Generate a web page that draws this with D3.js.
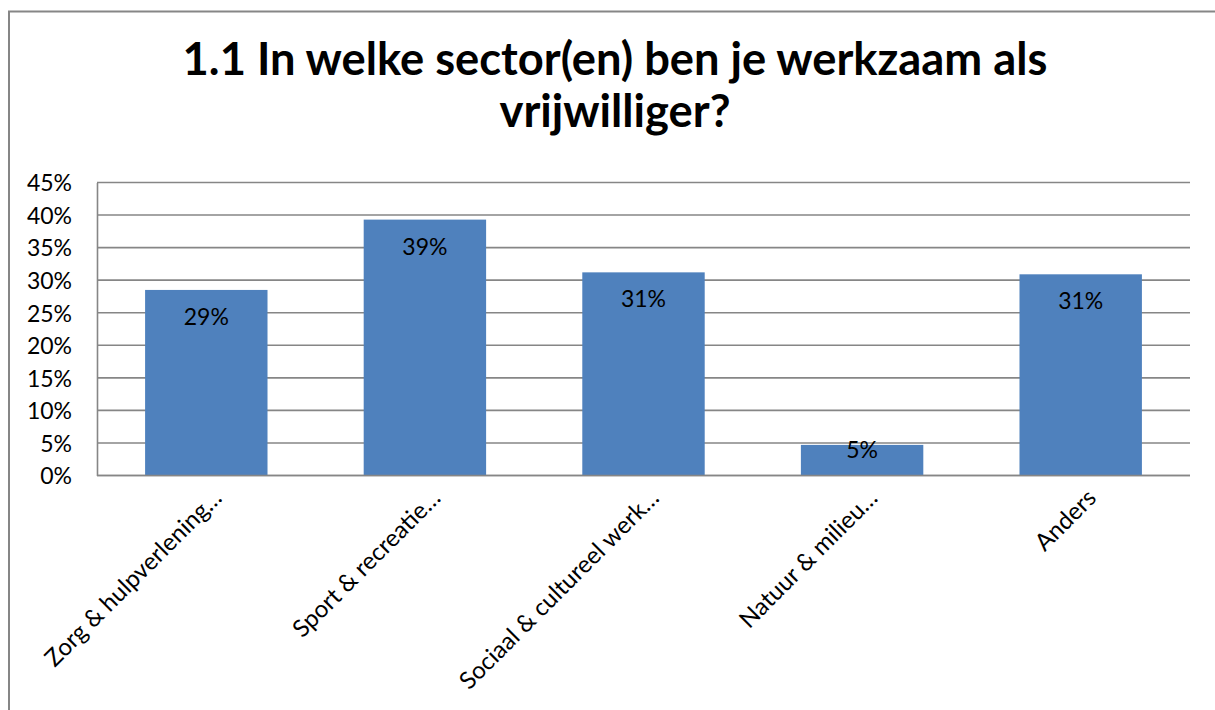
<!DOCTYPE html>
<html>
<head>
<meta charset="utf-8">
<script src="https://cdn.jsdelivr.net/npm/d3@7"></script>
<style>
  html, body { margin: 0; padding: 0; background: #fff; }
  svg { display: block; }
  text { font-family: Lato, "Open Sans", "Liberation Sans", sans-serif; }
</style>
</head>
<body>
<svg id="chart" width="1215" height="710"></svg>
<script>
const categories = ["Zorg & hulpverlening…", "Sport & recreatie…", "Sociaal & cultureel werk…", "Natuur & milieu…", "Anders"];
const values = [0.285, 0.393, 0.312, 0.047, 0.309];
const valueLabels = ["29%", "39%", "31%", "5%", "31%"];
const yTicks = [0, 0.05, 0.10, 0.15, 0.20, 0.25, 0.30, 0.35, 0.40, 0.45];
const titleLines = ["1.1 In welke sector(en) ben je werkzaam als", "vrijwilliger?"];

const svg = d3.select("#chart");
const W = 1215, H = 710;
const gridColor = "#868686";
const barColor = "#4F81BD";
const FONT = "Lato, 'Open Sans', sans-serif";

// outer frame
svg.append("rect").attr("x", 9).attr("y", 11.5).attr("width", W + 20).attr("height", H + 20)
  .attr("fill", "#fff").attr("stroke", gridColor).attr("stroke-width", 2);

const x = d3.scaleBand().domain(categories).range([97, 1190]).paddingInner(0.44).paddingOuter(0.22);
const y = d3.scaleLinear().domain([0, 0.45]).range([475.5, 182.5]);

// gridlines
svg.append("g").selectAll("line").data(yTicks).join("line")
  .attr("x1", 97).attr("x2", 1190)
  .attr("y1", d => y(d)).attr("y2", d => y(d))
  .attr("stroke", gridColor).attr("stroke-width", 1.6);

// y-axis
const yAxis = d3.axisLeft(y).tickValues(yTicks).tickFormat(d3.format(".0%")).tickSize(0).tickPadding(25);
const gy = svg.append("g").attr("transform", "translate(97,0)").call(yAxis);
gy.select(".domain").attr("stroke", gridColor).attr("stroke-width", 1.6);
gy.selectAll("text").attr("font-size", 23).attr("fill", "#000").attr("font-family", FONT).attr("dy", "0.36em");

// bars
svg.append("g").selectAll("rect").data(categories).join("rect")
  .attr("x", d => x(d)).attr("width", x.bandwidth())
  .attr("y", (d, i) => y(values[i])).attr("height", (d, i) => y(0) - y(values[i]))
  .attr("fill", barColor);

// baseline over bars
svg.append("line").attr("x1", 97).attr("x2", 1190).attr("y1", y(0)).attr("y2", y(0))
  .attr("stroke", gridColor).attr("stroke-width", 1.6);

// value labels
svg.append("g").selectAll("text").data(categories).join("text")
  .attr("x", d => x(d) + x.bandwidth() / 2)
  .attr("y", (d, i) => {
    const top = y(values[i]), h = y(0) - top;
    return h > 60 ? top + 35 : top + 13;
  })
  .attr("text-anchor", "middle").attr("font-size", 23).attr("fill", "#000")
  .text((d, i) => valueLabels[i]);

// x labels
const xAxis = d3.axisBottom(x).tickSize(0).tickPadding(0);
const gx = svg.append("g").attr("transform", `translate(0,${y(0)})`).call(xAxis);
gx.select(".domain").remove();
gx.selectAll("text")
  .attr("font-size", 24).attr("fill", "#000").attr("font-family", FONT)
  .attr("text-anchor", "end")
  .attr("y", 0).attr("dy", 0)
  .attr("transform", "translate(17,24) rotate(-45)");

// title
const title = svg.append("text").attr("text-anchor", "middle").attr("font-weight", "bold")
  .attr("font-size", 42).attr("fill", "#000");
title.selectAll("tspan").data(titleLines).join("tspan")
  .attr("x", 615).attr("y", (d, i) => 75 + i * 52).text(d => d);
// fit first line width to reference (~865px)
const w0 = title.select("tspan").node().getComputedTextLength();
title.attr("font-size", 42 * 865 / w0);
</script>
</body>
</html>
